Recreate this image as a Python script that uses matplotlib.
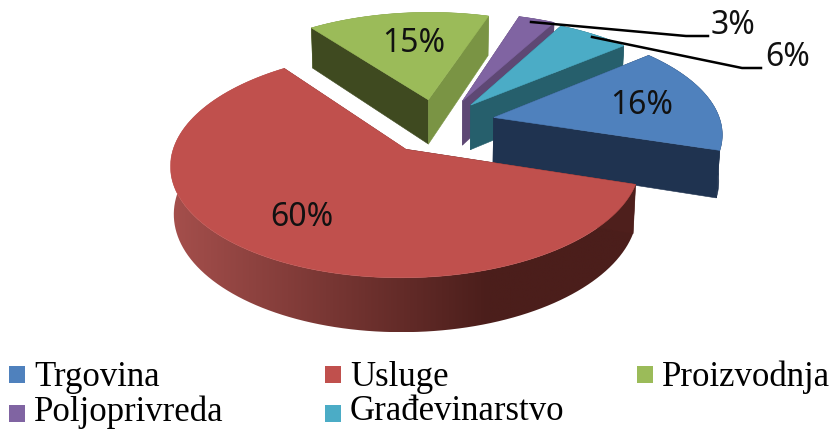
#!/usr/bin/env python3
"""Exploded 3D pie of activity shares, projected by hand onto a flat axes."""

import numpy as np
import matplotlib.pyplot as plt
from matplotlib.colors import LinearSegmentedColormap
from matplotlib.patches import Polygon, Rectangle

# ───── data ─────────────────────────────────────────────────────────────
categories = ["Trgovina", "Usluge", "Proizvodnja", "Poljoprivreda", "Građevinarstvo"]
shares = [16, 60, 15, 3, 6]
explode = [0.27, 0.23, 0.30, 0.30, 0.30]

top_colors = ["#4f81bd", "#c0504d", "#9bbb59", "#8064a2", "#4bacc6"]
rim_colors = ["#1f3350", "#7a2f2c", "#7a9444", "#5e4874", "#265f6c"]
cut_colors = ["#1f3350", "#4e1f1c", "#3f4a20", "#5e4874", "#265f6c"]

# ───── projection settings ──────────────────────────────────────────────
CX, CY = 437, 129
A, B = 227, 106
K = 0.13          # perspective: back of the pie shrinks
M = 0.012         # lower edge of the pie is a bit narrower
DEPTH = 46
START_ANGLE = 40  # first slice starts here, slices run clockwise
DRAW_ORDER = [2, 3, 4, 0, 1]
NUDGE_X = [-3, 0, 2, 0, -8]   # px, Excel does not explode quite evenly
NUDGE_Y = [-6, 0, 1, 0, 0]

RED_RIM = LinearSegmentedColormap.from_list(
    "red_rim", [(0.0, "#a54f4c"), (0.68, "#4b1e1b"), (1.0, "#4b1e1b")])


def project(x, y, z=0.0):
    """Plane coords -> pixel coords, y grows downwards."""
    w = 1 + K * np.asarray(y)
    return CX + A * np.asarray(x) / (w + M * z), CY - B * np.asarray(y) / w + z * DEPTH / w


fig = plt.figure(figsize=(8.35, 4.3), dpi=100)
ax = fig.add_axes([0, 0, 1, 1])
ax.axis("off")

# slice angles, clockwise from the start angle
edges = START_ANGLE - np.cumsum([0] + shares) * 3.6

for order, i in enumerate(DRAW_ORDER):
    a0, a1 = np.radians(edges[i]), np.radians(edges[i + 1])
    mid = (a0 + a1) / 2
    ox, oy = explode[i] * np.cos(mid), explode[i] * np.sin(mid)
    nx, ny = NUDGE_X[i], NUDGE_Y[i]

    t = np.linspace(a0, a1, 120)
    rx, ry = ox + np.cos(t), oy + np.sin(t)
    u0, v0 = project(rx, ry)
    u1, v1 = project(rx, ry, 1.0)
    au, av = project(ox, oy)
    au1, av1 = project(ox, oy, 1.0)
    z = order * 3

    # outer rim first, cut faces go over it
    band = np.column_stack((np.r_[u0, u1[::-1]] + nx, np.r_[v0, v1[::-1]] + ny))
    if i == 1:
        # big slice gets a left to right gradient, clipped to the band
        grad = np.linspace(0, 1, 256).reshape(1, -1)
        clip = Polygon(band, closed=True, transform=ax.transData, fc="none", ec="none")
        ax.add_patch(clip)
        im = ax.imshow(grad, cmap=RED_RIM, aspect="auto", zorder=z,
                       extent=(u0.min(), u0.max(), v1.max(), v0.min()))
        im.set_clip_path(clip)
    else:
        ax.add_patch(Polygon(band, closed=True, fc=rim_colors[i], ec=rim_colors[i],
                             lw=0.4, zorder=z))

    # cut faces, the ones facing away end up under the top face
    for k, col in ((0, cut_colors[i]), (-1, rim_colors[i])):
        quad = np.array([(au, av), (u0[k], v0[k]), (u1[k], v1[k]), (au1, av1)]) + (nx, ny)
        ax.add_patch(Polygon(quad, closed=True, fc=col, ec=col, lw=0.4, zorder=z + 1))

    # top face
    top = np.column_stack((np.r_[au, u0] + nx, np.r_[av, v0] + ny))
    ax.add_patch(Polygon(top, closed=True, fc=top_colors[i], ec=top_colors[i], lw=0.4, zorder=z + 2))

ax.set_xlim(0, 835)
ax.set_ylim(430, 0)

# ───── data labels ──────────────────────────────────────────────────────
label_font = dict(family="Noto Sans", fontsize=23, color="#111111",
                  ha="center", va="center", zorder=30)
ax.text(642, 106, f"{shares[0]}%", **label_font)
ax.text(302, 218, f"{shares[1]}%", **label_font)
ax.text(414, 44, f"{shares[2]}%", **label_font)
ax.text(733, 25, f"{shares[3]}%", **label_font)
ax.text(788, 58, f"{shares[4]}%", **label_font)

ax.plot([531, 686, 708], [22, 36, 36], color="black", lw=1.8, zorder=30)
ax.plot([592, 742, 761], [37, 68, 68], color="black", lw=1.8, zorder=30)

# ───── legend ───────────────────────────────────────────────────────────
legend_x = [9, 325, 637, 9, 325]
legend_y = [375, 375, 375, 414, 414]
text_y = [377, 377, 377, 412, 412]
for name, col, x, y, ty in zip(categories, top_colors, legend_x, legend_y, text_y):
    ax.add_patch(Rectangle((x, y - 9), 16, 17, fc=col, ec="none"))
    ax.text(x + 25, ty, name, family="Liberation Serif", fontsize=25,
            color="black", ha="left", va="center")

fig.savefig("out.png", dpi=100)
